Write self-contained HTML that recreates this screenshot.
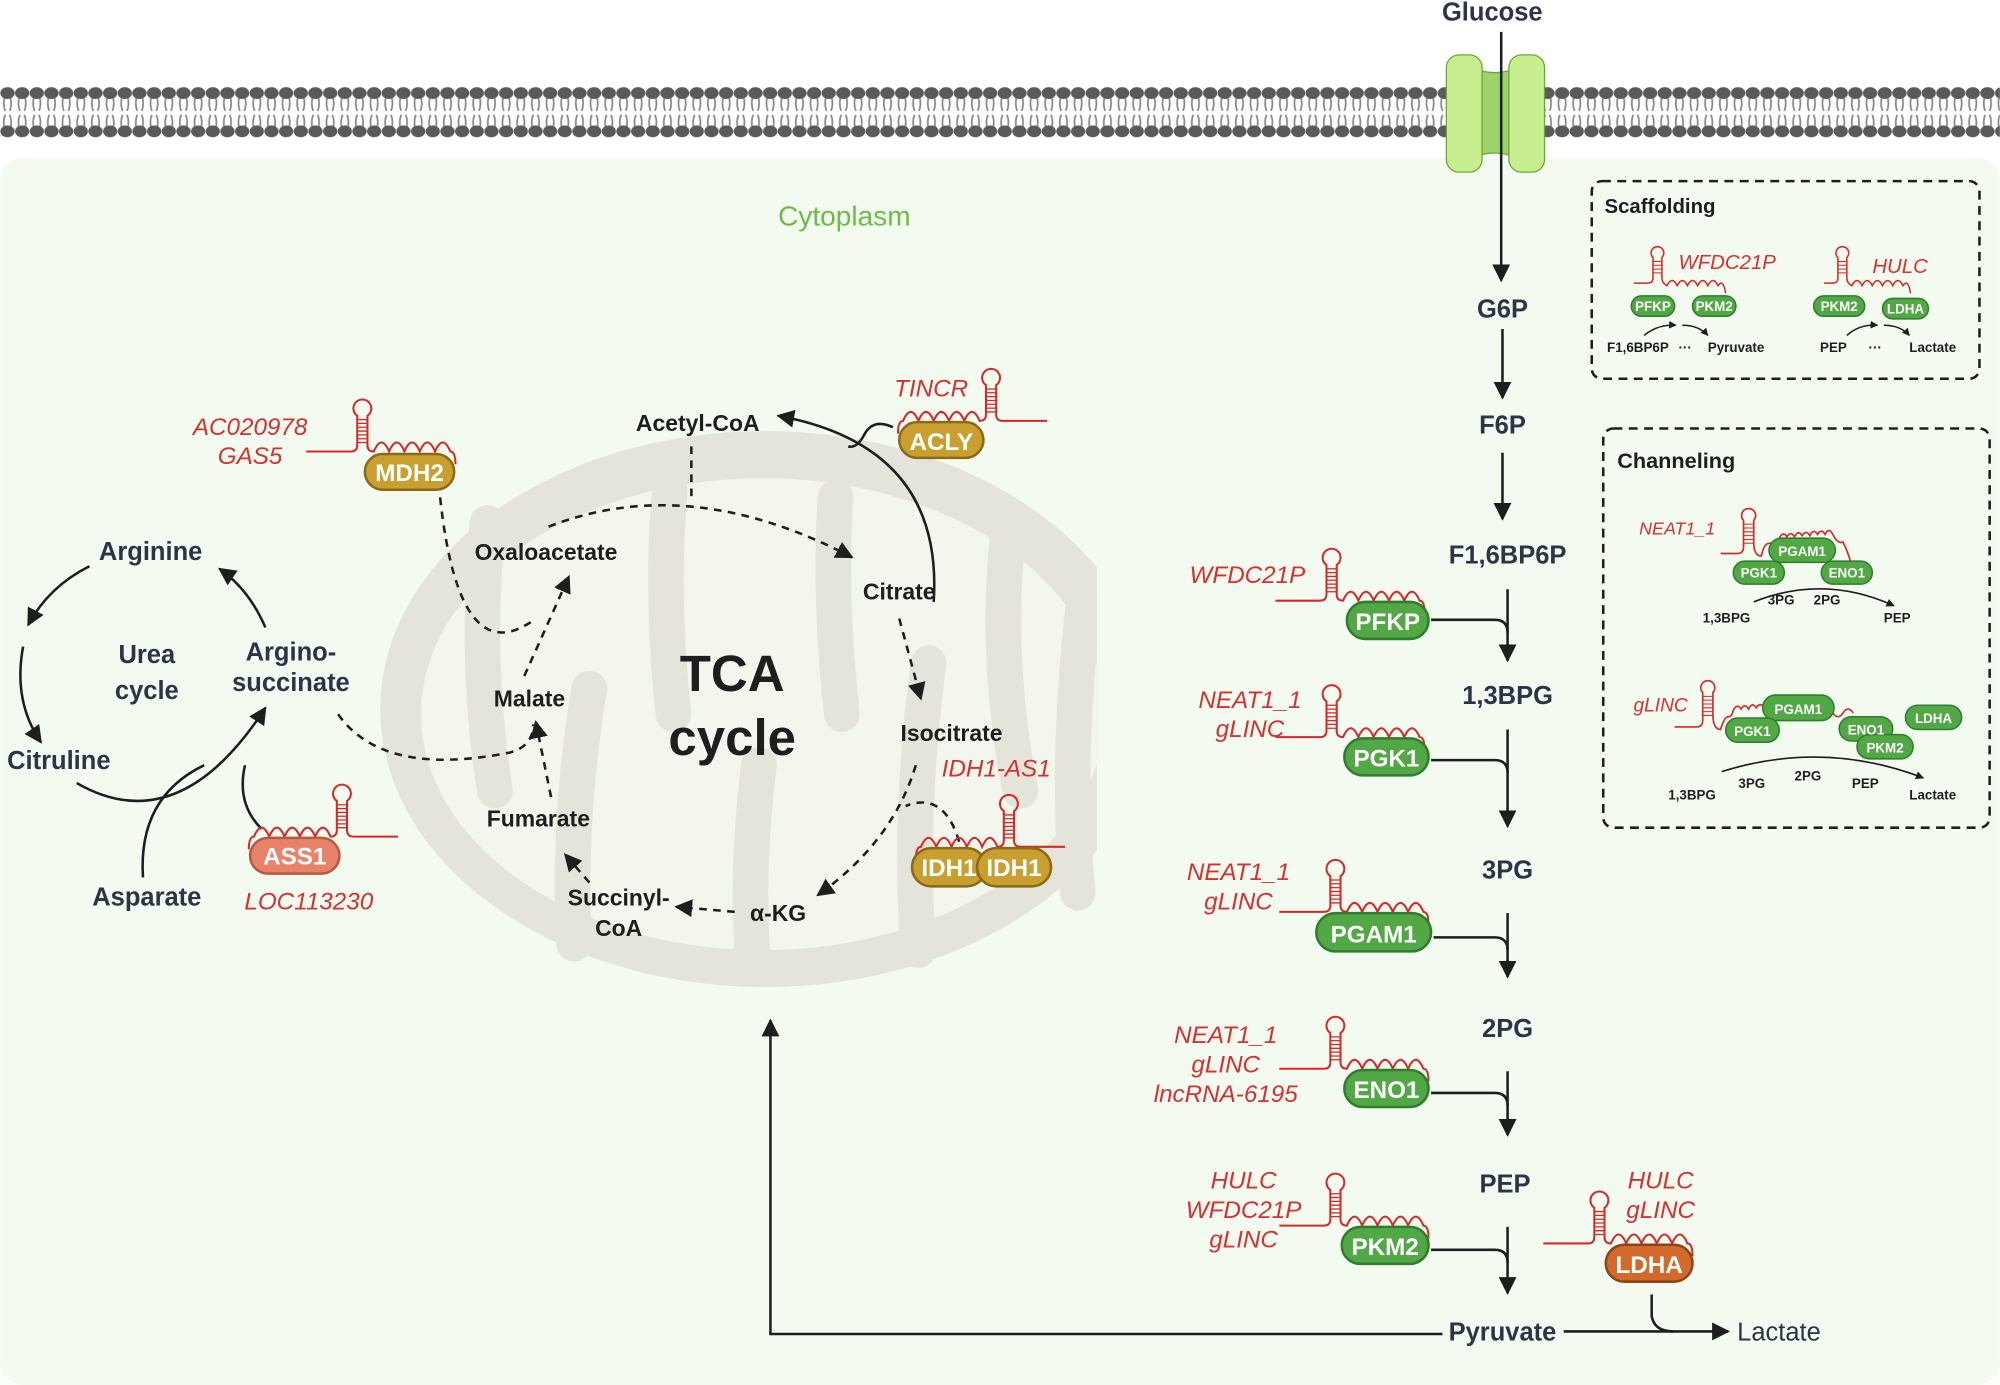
<!DOCTYPE html>
<html><head><meta charset="utf-8"><style>
html,body{margin:0;padding:0;background:#fff}
svg{display:block}
text{font-family:"Liberation Sans",Arial,sans-serif}
.nv{fill:#2d3448;font-weight:bold;font-size:20px}
.bk{fill:#1e1e1e;font-weight:bold;font-size:18px}
.rd{fill:#d63030;font-style:italic;font-size:19px}
.pt{fill:#fff;font-weight:bold;font-size:19px}
.sm{fill:#1e1e1e;font-weight:bold;font-size:10.5px}
.spt{fill:#fff;font-weight:bold;font-size:10.5px}
</style></head><body>
<svg width="2000" height="1385" viewBox="0 0 1568 1086" xmlns="http://www.w3.org/2000/svg">
<defs>
<pattern id="mem" x="0" y="62" width="11.5" height="52" patternUnits="userSpaceOnUse">
<path d="M3.5,14 Q2,20 4,25 M8,14 Q9.5,20 7.5,25 M4,28 Q2,33 3.5,39 M7.5,28 Q9.5,33 8,39" stroke="#8a8a8a" stroke-width="1.4" fill="none"/>
<ellipse cx="5.75" cy="11" rx="5.6" ry="4.6" fill="#5a5a5a"/>
<ellipse cx="5.75" cy="41" rx="5.6" ry="4.6" fill="#5a5a5a"/>
</pattern>
<marker id="ah" viewBox="0 0 10 10" refX="9" refY="5" markerWidth="7" markerHeight="7" orient="auto"><path d="M0,0 L10,5 L0,10 z" fill="#1e1e1e"/></marker>
<marker id="ahs" viewBox="0 0 10 10" refX="9" refY="5" markerWidth="5" markerHeight="5" orient="auto"><path d="M0,0 L10,5 L0,10 z" fill="#1e1e1e"/></marker>
<g id="hp" fill="none" stroke="#d62828" stroke-width="1.6">
<path d="M-40,0 H-5 Q0,0 0,-5 V-28 A7,7 0 1 1 8,-28 V-5 Q8,0 13,0 q6,-14 12,0 q6,-14 12,0 q6,-14 12,0 q6,-14 12,0 q6,-14 12,0 q4,0 4,10"/>
<path d="M0,-7H8M0,-10H8M0,-13H8M0,-16H8M0,-19H8M0,-22H8M0,-25H8" stroke-width="1"/>
</g>
<clipPath id="mc"><rect x="0" y="0" width="860" height="1086"/></clipPath>
</defs>

<rect x="0" y="124" width="1568" height="962" rx="18" fill="#f3fbf1"/>
<rect x="0" y="62" width="1568" height="52" fill="url(#mem)"/>
<path d="M1152,52 Q1172,62 1192,52 V125 Q1172,115 1152,125 Z" fill="#9ed26a" stroke="#6aa53a"/>
<rect x="1134" y="43" width="28" height="92" rx="10" fill="#c8ef8f" stroke="#6aa53a"/>
<rect x="1183" y="43" width="28" height="92" rx="10" fill="#c8ef8f" stroke="#6aa53a"/>

<text x="610" y="177" fill="#6dbd45" font-size="22">Cytoplasm</text>

<g clip-path="url(#mc)">
<ellipse cx="600" cy="556" rx="302" ry="218" fill="#e5e4da"/>
<ellipse cx="598" cy="560" rx="268" ry="185" fill="#f3f6ec"/>
<g stroke="#e5e4da" stroke-width="28" stroke-linecap="round" fill="none">
<path d="M382,410 Q372,520 388,620"/>
<path d="M525,385 Q518,470 528,560"/>
<path d="M655,390 Q650,470 660,560"/>
<path d="M790,420 Q780,520 800,620"/>
<path d="M450,740 Q445,640 462,540"/>
<path d="M590,750 Q585,680 595,600"/>
<path d="M720,745 Q712,640 728,520"/>
<path d="M845,700 Q835,600 850,470"/>
</g>
</g>
<text x="574" y="542" text-anchor="middle" font-weight="bold" font-size="40" fill="#1e1e1e">TCA</text>
<text x="574" y="592" text-anchor="middle" font-weight="bold" font-size="40" fill="#1e1e1e">cycle</text>

<text x="547" y="338" class="bk" text-anchor="middle">Acetyl-CoA</text>
<text x="428" y="439" class="bk" text-anchor="middle">Oxaloacetate</text>
<text x="705" y="470" class="bk" text-anchor="middle">Citrate</text>
<text x="746" y="581" class="bk" text-anchor="middle">Isocitrate</text>
<text x="415" y="554" class="bk" text-anchor="middle">Malate</text>
<text x="422" y="648" class="bk" text-anchor="middle">Fumarate</text>
<text x="485" y="710" class="bk" text-anchor="middle">Succinyl-</text>
<text x="485" y="734" class="bk" text-anchor="middle">CoA</text>
<text x="610" y="722" class="bk" text-anchor="middle">α-KG</text>

<g fill="none" stroke="#1e1e1e" stroke-width="2" stroke-dasharray="6,5">
<path d="M542,350 V392"/>
<path d="M430,413 Q540,370 668,437" marker-end="url(#ah)"/>
<path d="M705,485 L722,548" marker-end="url(#ah)"/>
<path d="M718,600 Q700,660 641,702" marker-end="url(#ah)"/>
<path d="M576,715 L530,711" marker-end="url(#ah)"/>
<path d="M462,692 L443,670" marker-end="url(#ah)"/>
<path d="M432,625 L420,566" marker-end="url(#ah)"/>
<path d="M411,530 L446,452" marker-end="url(#ah)"/>
<path d="M345,390 Q360,530 420,485"/>
<path d="M265,560 Q300,610 400,590 Q418,585 418,568"/>
<path d="M752,660 Q740,620 710,632"/>
</g>
<path d="M732,472 Q740,350 610,326" fill="none" stroke="#1e1e1e" stroke-width="2" marker-end="url(#ah)"/>
<path d="M700,335 Q685,328 678,340 Q672,352 665,350" fill="none" stroke="#1e1e1e" stroke-width="2"/>

<use href="#hp" x="280" y="354"/>
<rect x="286" y="356" width="70" height="28" rx="14" fill="#c9a02f" stroke="#8a6a1a" stroke-width="2"/>
<text x="321" y="377" class="pt" text-anchor="middle">MDH2</text>
<text x="196" y="341" class="rd" text-anchor="middle">AC020978</text>
<text x="196" y="364" class="rd" text-anchor="middle">GAS5</text>

<g transform="translate(781,330) scale(-1,1)"><use href="#hp"/></g>
<rect x="705" y="331" width="66" height="28" rx="14" fill="#c9a02f" stroke="#8a6a1a" stroke-width="2"/>
<text x="738" y="353" class="pt" text-anchor="middle">ACLY</text>
<text x="730" y="311" class="rd" text-anchor="middle">TINCR</text>

<g transform="translate(795,664) scale(-1,1)"><use href="#hp"/></g>
<rect x="715" y="665" width="58" height="30" rx="15" fill="#c9a02f" stroke="#8a6a1a" stroke-width="2"/>
<rect x="766" y="665" width="58" height="30" rx="15" fill="#c9a02f" stroke="#8a6a1a" stroke-width="2"/>
<text x="744" y="687" class="pt" text-anchor="middle">IDH1</text>
<text x="795" y="687" class="pt" text-anchor="middle">IDH1</text>
<text x="781" y="609" class="rd" text-anchor="middle">IDH1-AS1</text>

<text x="118" y="439" class="nv" text-anchor="middle">Arginine</text>
<text x="228" y="518" class="nv" text-anchor="middle">Argino-</text>
<text x="228" y="542" class="nv" text-anchor="middle">succinate</text>
<text x="46" y="603" class="nv" text-anchor="middle">Citruline</text>
<text x="115" y="710" class="nv" text-anchor="middle">Asparate</text>
<text x="115" y="520" class="nv" text-anchor="middle" font-size="23">Urea</text>
<text x="115" y="548" class="nv" text-anchor="middle" font-size="23">cycle</text>
<g fill="none" stroke="#1e1e1e" stroke-width="2">
<path d="M70,444 Q38,460 22,490" marker-end="url(#ah)"/>
<path d="M18,507 Q10,550 32,582" marker-end="url(#ah)"/>
<path d="M60,614 Q140,660 208,555" marker-end="url(#ah)"/>
<path d="M208,492 Q195,462 172,446" marker-end="url(#ah)"/>
<path d="M112,688 Q108,625 160,600"/>
<path d="M205,650 Q185,630 192,600"/>
</g>
<g transform="translate(272,656) scale(-1,1)"><use href="#hp"/></g>
<rect x="196" y="657" width="70" height="28" rx="14" fill="#e8836a" stroke="#b55a45" stroke-width="2"/>
<text x="231" y="678" class="pt" text-anchor="middle">ASS1</text>
<text x="242" y="713" class="rd" text-anchor="middle">LOC113230</text>

<text x="1170" y="16" class="nv" text-anchor="middle">Glucose</text>
<text x="1178" y="249" class="nv" text-anchor="middle">G6P</text>
<text x="1178" y="340" class="nv" text-anchor="middle">F6P</text>
<text x="1182" y="442" class="nv" text-anchor="middle" font-size="19">F1,6BP6P</text>
<text x="1182" y="552" class="nv" text-anchor="middle" font-size="19">1,3BPG</text>
<text x="1182" y="689" class="nv" text-anchor="middle" font-size="19">3PG</text>
<text x="1182" y="813" class="nv" text-anchor="middle" font-size="19">2PG</text>
<text x="1180" y="935" class="nv" text-anchor="middle" font-size="19">PEP</text>
<text x="1178" y="1051" class="nv" text-anchor="middle" font-size="19">Pyruvate</text>
<text x="1362" y="1051" fill="#2d3448" font-size="20">Lactate</text>

<g fill="none" stroke="#1e1e1e" stroke-width="2">
<path d="M1177,25 V220" marker-end="url(#ah)"/>
<path d="M1178,258 V312" marker-end="url(#ah)"/>
<path d="M1178,355 V407" marker-end="url(#ah)"/>
<path d="M1182,462 V518" marker-end="url(#ah)"/><path d="M1122,486 H1172 Q1182,486 1182,496"/>
<path d="M1182,572 V648" marker-end="url(#ah)"/><path d="M1122,596 H1172 Q1182,596 1182,606"/>
<path d="M1182,716 V766" marker-end="url(#ah)"/><path d="M1124,735 H1172 Q1182,735 1182,745"/>
<path d="M1182,840 V890" marker-end="url(#ah)"/><path d="M1122,857 H1172 Q1182,857 1182,867"/>
<path d="M1182,962 V1014" marker-end="url(#ah)"/><path d="M1122,980 H1172 Q1182,980 1182,990"/>
<path d="M1131,1046 H604 V800" marker-end="url(#ah)"/>
<path d="M1226,1044 H1355" marker-end="url(#ah)"/>
<path d="M1295,1015 V1032 Q1297,1044 1312,1044"/>
</g>

<use href="#hp" x="1040" y="471"/>
<rect x="1056" y="472" width="64" height="29" rx="14.5" fill="#52a845" stroke="#2f7d2e" stroke-width="2"/>
<text x="1088" y="494" class="pt" text-anchor="middle">PFKP</text>
<text x="978" y="457" class="rd" text-anchor="middle">WFDC21P</text>

<use href="#hp" x="1040" y="578"/>
<rect x="1054" y="579" width="66" height="29" rx="14.5" fill="#52a845" stroke="#2f7d2e" stroke-width="2"/>
<text x="1087" y="601" class="pt" text-anchor="middle">PGK1</text>
<text x="980" y="555" class="rd" text-anchor="middle">NEAT1_1</text>
<text x="980" y="578" class="rd" text-anchor="middle">gLINC</text>

<use href="#hp" x="1043" y="715"/>
<rect x="1032" y="716" width="90" height="30" rx="15" fill="#52a845" stroke="#2f7d2e" stroke-width="2"/>
<text x="1077" y="739" class="pt" text-anchor="middle">PGAM1</text>
<text x="971" y="690" class="rd" text-anchor="middle">NEAT1_1</text>
<text x="971" y="713" class="rd" text-anchor="middle">gLINC</text>

<use href="#hp" x="1043" y="838"/>
<rect x="1054" y="839" width="66" height="29" rx="14.5" fill="#52a845" stroke="#2f7d2e" stroke-width="2"/>
<text x="1087" y="861" class="pt" text-anchor="middle">ENO1</text>
<text x="961" y="818" class="rd" text-anchor="middle">NEAT1_1</text>
<text x="961" y="841" class="rd" text-anchor="middle">gLINC</text>
<text x="961" y="864" class="rd" text-anchor="middle">lncRNA-6195</text>

<use href="#hp" x="1043" y="961"/>
<rect x="1052" y="962" width="68" height="29" rx="14.5" fill="#52a845" stroke="#2f7d2e" stroke-width="2"/>
<text x="1086" y="984" class="pt" text-anchor="middle">PKM2</text>
<text x="975" y="932" class="rd" text-anchor="middle">HULC</text>
<text x="975" y="955" class="rd" text-anchor="middle">WFDC21P</text>
<text x="975" y="978" class="rd" text-anchor="middle">gLINC</text>

<use href="#hp" x="1250" y="975"/>
<rect x="1259" y="976" width="68" height="29" rx="14.5" fill="#d26a2c" stroke="#8f4318" stroke-width="2"/>
<text x="1293" y="998" class="pt" text-anchor="middle">LDHA</text>
<text x="1302" y="932" class="rd" text-anchor="middle">HULC</text>
<text x="1302" y="955" class="rd" text-anchor="middle">gLINC</text>

<rect x="1248" y="142" width="304" height="155" rx="8" fill="none" stroke="#1e1e1e" stroke-width="2" stroke-dasharray="7,5"/>
<text x="1258" y="167" fill="#1e1e1e" font-weight="bold" font-size="16">Scaffolding</text>
<g fill="none" stroke="#d62828" stroke-width="1.2">
<path d="M1281,222 H1292 Q1296,222 1296,218 V202 A5,5 0 1 1 1303,202 V218 Q1303,222 1307,224 q4,-8 8,0 q4,-8 8,0 q4,-8 8,0 q4,-8 8,0 q4,-8 8,0 q4,-6 6,6"/>
<path d="M1296,205H1303M1296,208H1303M1296,211H1303M1296,214H1303" stroke-width="0.8"/>
<path d="M1430,222 H1437 Q1441,222 1441,218 V202 A5,5 0 1 1 1448,202 V218 Q1448,222 1452,224 q4,-8 8,0 q4,-8 8,0 q4,-8 8,0 q4,-8 8,0 q4,-8 8,0 q4,-6 6,6"/>
<path d="M1441,205H1448M1441,208H1448M1441,211H1448M1441,214H1448" stroke-width="0.8"/>
</g>
<text x="1316" y="211" fill="#d63030" font-style="italic" font-size="16">WFDC21P</text>
<text x="1468" y="214" fill="#d63030" font-style="italic" font-size="16">HULC</text>
<g stroke="#2f7d2e" stroke-width="1.2" fill="#52a845">
<rect x="1279" y="232" width="34" height="16" rx="8"/><rect x="1327" y="232" width="34" height="16" rx="8"/>
<rect x="1422" y="232" width="40" height="16" rx="8"/><rect x="1476" y="234" width="36" height="16" rx="8"/>
</g>
<text x="1296" y="244" class="spt" text-anchor="middle">PFKP</text>
<text x="1344" y="244" class="spt" text-anchor="middle">PKM2</text>
<text x="1442" y="244" class="spt" text-anchor="middle">PKM2</text>
<text x="1494" y="246" class="spt" text-anchor="middle">LDHA</text>
<g fill="none" stroke="#1e1e1e" stroke-width="1.2">
<path d="M1289,263 Q1300,254 1314,255" marker-end="url(#ahs)"/>
<path d="M1319,255 Q1332,255 1339,263" marker-end="url(#ahs)"/>
<path d="M1448,263 Q1458,254 1472,255" marker-end="url(#ahs)"/>
<path d="M1477,255 Q1490,255 1497,263" marker-end="url(#ahs)"/>
</g>
<text x="1260" y="276" class="sm">F1,6BP6P</text>
<text x="1316" y="276" class="sm">···</text>
<text x="1339" y="276" class="sm">Pyruvate</text>
<text x="1427" y="276" class="sm">PEP</text>
<text x="1465" y="276" class="sm">···</text>
<text x="1497" y="276" class="sm">Lactate</text>

<rect x="1257" y="336" width="303" height="313" rx="8" fill="none" stroke="#1e1e1e" stroke-width="2" stroke-dasharray="7,5"/>
<text x="1268" y="367" fill="#1e1e1e" font-weight="bold" font-size="17">Channeling</text>
<text x="1315" y="419" fill="#d63030" font-style="italic" font-size="14" text-anchor="middle">NEAT1_1</text>
<g fill="none" stroke="#d62828" stroke-width="1.3">
<path d="M1349,434 H1362 Q1367,434 1367,429 V408 A5.5,5.5 0 1 1 1375,408 V425 Q1375,436 1381,436 q2,-10 6,-10 q5,0 8,-4 q3,-6 6,-1 q3,-5 6,0 q3,-6 6,-1 q3,-5 6,0 q3,-6 6,-1 q3,-5 6,0 q3,-6 6,0 q4,8 8,6 q4,8 6,16 q3,5 8,1"/>
<path d="M1367,411H1375M1367,414H1375M1367,417H1375M1367,420H1375M1367,423H1375M1367,426H1375" stroke-width="0.8"/>
</g>
<g stroke="#2f7d2e" stroke-width="1.2" fill="#52a845">
<rect x="1387" y="422" width="52" height="19" rx="9.5"/>
<rect x="1359" y="440" width="40" height="18" rx="9"/>
<rect x="1428" y="440" width="40" height="18" rx="9"/>
</g>
<text x="1413" y="436" class="spt" text-anchor="middle">PGAM1</text>
<text x="1379" y="453" class="spt" text-anchor="middle">PGK1</text>
<text x="1448" y="453" class="spt" text-anchor="middle">ENO1</text>
<path d="M1375,472 Q1430,450 1485,475" fill="none" stroke="#1e1e1e" stroke-width="1.3" marker-end="url(#ahs)"/>
<text x="1386" y="474" class="sm">3PG</text><text x="1422" y="474" class="sm">2PG</text>
<text x="1335" y="488" class="sm">1,3BPG</text><text x="1477" y="488" class="sm">PEP</text>

<text x="1302" y="558" fill="#d63030" font-style="italic" font-size="15" text-anchor="middle">gLINC</text>
<g fill="none" stroke="#d62828" stroke-width="1.3">
<path d="M1313,570 H1330 Q1335,570 1335,565 V543 A5.5,5.5 0 1 1 1343,543 V560 Q1343,572 1349,572 q3,-10 6,-10 q3,0 4,-5 q3,-6 6,-1 q3,-5 6,0 q3,-6 6,-1 q3,-5 6,0 q3,-6 6,-1 q3,-5 6,0 q3,-6 6,-1 q3,-5 6,0 q3,6 6,4 q4,6 8,2 q4,6 8,0 q4,6 8,0 q4,6 8,0 q4,-6 8,0"/>
<path d="M1335,546H1343M1335,549H1343M1335,552H1343M1335,555H1343M1335,558H1343M1335,561H1343" stroke-width="0.8"/>
</g>
<g stroke="#2f7d2e" stroke-width="1.2" fill="#52a845">
<rect x="1382" y="545" width="56" height="20" rx="10"/>
<rect x="1353" y="563" width="42" height="19" rx="9.5"/>
<rect x="1442" y="562" width="42" height="19" rx="9.5"/>
<rect x="1456" y="576" width="44" height="19" rx="9.5"/>
<rect x="1494" y="553" width="44" height="19" rx="9.5"/>
</g>
<text x="1410" y="560" class="spt" text-anchor="middle">PGAM1</text>
<text x="1374" y="577" class="spt" text-anchor="middle">PGK1</text>
<text x="1463" y="576" class="spt" text-anchor="middle">ENO1</text>
<text x="1478" y="590" class="spt" text-anchor="middle">PKM2</text>
<text x="1516" y="567" class="spt" text-anchor="middle">LDHA</text>
<path d="M1350,605 Q1430,580 1508,610" fill="none" stroke="#1e1e1e" stroke-width="1.3" marker-end="url(#ahs)"/>
<text x="1363" y="618" class="sm">3PG</text><text x="1407" y="612" class="sm">2PG</text>
<text x="1452" y="618" class="sm">PEP</text>
<text x="1308" y="627" class="sm">1,3BPG</text><text x="1497" y="627" class="sm">Lactate</text>
</svg>
</body></html>
